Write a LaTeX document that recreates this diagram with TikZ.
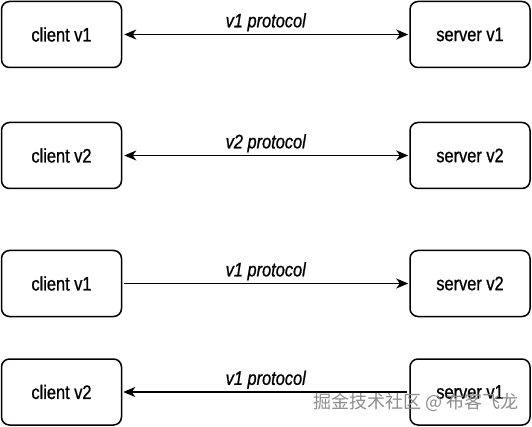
\documentclass[tikz,border=0pt]{standalone}
\usepackage{fontspec}
\setmainfont{Liberation Sans}[FakeStretch=0.84,FakeBold=0.9]
\newfontfamily\cjk{Noto Sans CJK SC}
\usetikzlibrary{arrows.meta}
\begin{document}
\begin{tikzpicture}[x=1pt,y=-1pt,
  box/.style={draw,line width=1.5pt,rounded corners=8pt,minimum width=120pt,minimum height=66pt,inner sep=0pt,font=\fontsize{19.5}{21}\selectfont},
  conn/.style={line width=1.3pt,shorten <=2pt,shorten >=1pt},
  tip/.style={-{Stealth[length=12pt,width=10pt,inset=3.5pt]}},
  lbl/.style={font=\fontsize{19.5}{21}\selectfont\itshape,above=1.5pt,inner sep=1pt}]
\useasboundingbox (0,0) rectangle (532,427);
\node[box] (c1) at (61.5,34.5) {client v1};
\node[box] (s1) at (470,34.5) {server v1};
\node[box] (c2) at (61.5,155.5) {client v2};
\node[box] (s2) at (470,155.5) {server v2};
\node[box] (c3) at (61.5,283.5) {client v1};
\node[box] (s3) at (470,283.5) {server v2};
\node[box] (c4) at (61.5,392) {client v2};
\node[box] (s4) at (470,392) {server v1};
\draw[conn,{Stealth[length=12pt,width=10pt,inset=3.5pt]}-{Stealth[length=12pt,width=10pt,inset=3.5pt]}] (c1) -- node[lbl]{v1 protocol} (s1);
\draw[conn,{Stealth[length=12pt,width=10pt,inset=3.5pt]}-{Stealth[length=12pt,width=10pt,inset=3.5pt]}] (c2) -- node[lbl]{v2 protocol} (s2);
\draw[conn,tip] (c3) -- node[lbl]{v1 protocol} (s3);
\draw[conn,tip] (s4) -- node[lbl]{v1 protocol} (c4);
\node[font=\cjk\fontsize{18}{20}\selectfont,text=black!45,inner sep=0pt] (wm) at (416,402) {掘金技术社区 @ 布客飞龙};
\end{tikzpicture}
\end{document}
